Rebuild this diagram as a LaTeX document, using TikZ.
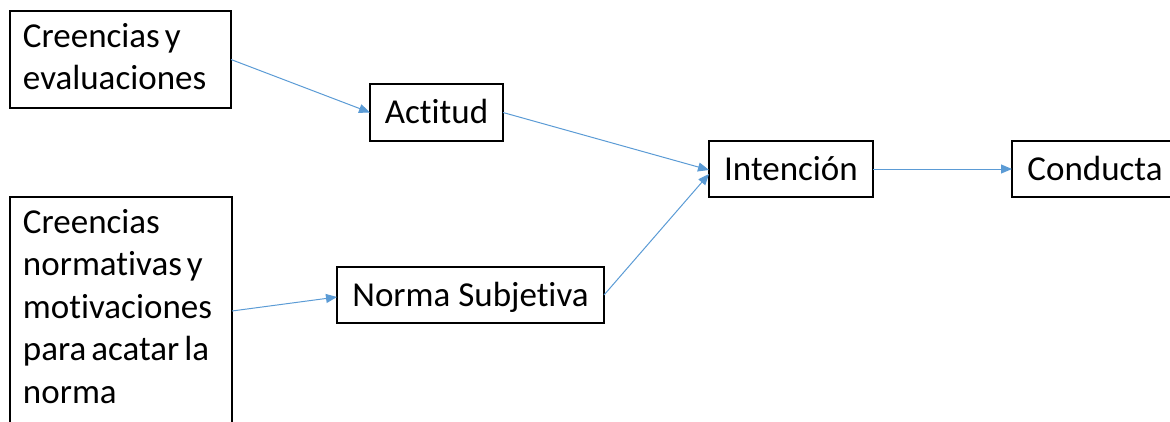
\documentclass[tikz,border=0pt]{standalone}
\usepackage{fontspec}
\setmainfont{Carlito}[Ligatures=CommonOff]
\usetikzlibrary{arrows.meta,calc}
\definecolor{arrowblue}{HTML}{5B9BD5}
\newcommand{\wsp}{\hspace{5pt}}
\begin{document}
\begin{tikzpicture}[x=1pt,y=-1pt,
  box/.style={draw=black,line width=1.8pt,fill=white,outer sep=0pt,
    font=\fontsize{35}{42.5}\selectfont},
  onebox/.style={box,inner sep=0pt,text height=24pt,text depth=2pt},
  conn/.style={draw=arrowblue,line width=1pt,-{Triangle[length=11pt,width=9pt]}}]
\useasboundingbox (0,0) rectangle (1170,421);
\clip (0,0) rectangle (1170,421);
\node[box,anchor=north west,inner xsep=13pt,inner ysep=0pt,text width=195pt,
  minimum height=97pt,align=left,text height=24pt,text depth=49pt]
  (b1) at (10,11) {\mbox{Creencias\wsp y}\\\mbox{evaluaciones}};
\node[box,anchor=north west,inner xsep=13pt,inner ysep=10pt,text width=196pt,
  align=left,text height=26pt,text depth=250pt]
  (b5) at (10,197) {\mbox{Creencias}\\\mbox{normativas\wsp y}\\\mbox{motivaciones}\\\mbox{para\wsp acatar\wsp la}\\\mbox{norma}};
\node[onebox,minimum width=133pt,minimum height=57pt] (act) at (436.5,112.5) {Actitud};
\node[onebox,minimum width=267pt,minimum height=56pt] (nor) at (470.5,295) {Norma Subjetiva};
\node[onebox,minimum width=164pt,minimum height=56pt] (int) at (791,169) {Intención};
\node[onebox,minimum width=166pt,minimum height=56pt] (con) at (1095,169) {Conducta};
\draw[conn] (b1.east) -- (act.west);
\draw[conn] ([yshift=-114pt]b5.north east) -- ([yshift=-2pt]nor.west);
\draw[conn] (act.east) -- ([yshift=-1pt]int.west);
\draw[conn] (nor.east) -- ([yshift=-5pt]int.west);
\draw[conn] (int.east) -- (con.west);
\end{tikzpicture}
\end{document}
